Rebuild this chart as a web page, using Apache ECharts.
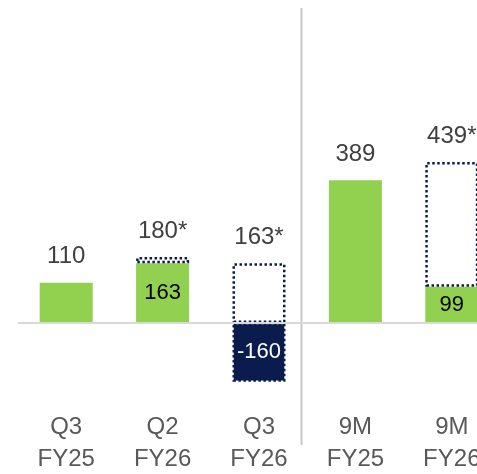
<!DOCTYPE html>
<html>
<head>
<meta charset="utf-8">
<script src="https://cdn.jsdelivr.net/npm/echarts@6/dist/echarts.min.js"></script>
<style>
html,body{margin:0;padding:0;background:#fff;}
#chart{width:477px;height:474px;}
</style>
</head>
<body>
<div id="chart"></div>
<script>
// Data
var categories = ['Q3\nFY25', 'Q2\nFY26', 'Q3\nFY26', '9M\nFY25', '9M\nFY26'];
var reported = [110, 163, null, 389, 99];        // green bars
var negative = [null, null, -160, null, null];   // navy bar
var adjusted = [null, 180, 163, null, 439];      // dotted outline totals (labelled with *)

var GREEN = '#92d050';
var NAVY = '#0a1b4e';
var FONT = '"Liberation Sans", Arial, sans-serif';

// Build series data
var greenData = reported.map(function (v, i) {
  if (v == null) return '-';
  var inside = adjusted[i] != null;
  return {
    value: v,
    label: inside
      ? { show: true, position: 'inside', color: '#000', fontSize: 22 }
      : { show: true, position: 'top', distance: 14, color: '#404040', fontSize: 24 }
  };
});
var outlineData = adjusted.map(function (v, i) {
  if (v == null) return '-';
  var base = reported[i] != null ? reported[i] : 0;
  return { value: v - base, total: v };
});
var negData = negative.map(function (v) { return v == null ? '-' : v; });

var chart = echarts.init(document.getElementById('chart'), null, { renderer: 'canvas' });
chart.setOption({
  animation: false,
  backgroundColor: '#fff',
  grid: { left: 18, width: 482, top: 103, height: 308, containLabel: false, outerBoundsMode: 'none' },
  xAxis: {
    type: 'category',
    data: categories,
    axisLine: { show: false, onZero: false },
    axisTick: { show: false },
    splitLine: { show: false },
    axisLabel: {
      margin: 0,
      color: '#595959',
      fontSize: 24,
      lineHeight: 32,
      fontFamily: FONT,
      interval: 0,
      hideOverlap: false
    }
  },
  yAxis: {
    type: 'value',
    min: -240,
    max: 600,
    show: false,
    splitLine: { show: false }
  },
  series: [
    {
      type: 'bar',
      stack: 'a',
      data: greenData,
      barWidth: 53,
      itemStyle: { color: GREEN },
      label: { fontFamily: FONT },
      markLine: {
        silent: true,
        symbol: 'none',
        label: { show: false },
        lineStyle: { color: '#d9d9d9', width: 2, type: 'solid' },
        data: [{ yAxis: 0 }]
      },
      z: 2
    },
    {
      type: 'bar',
      stack: 'a',
      data: outlineData,
      barWidth: 53,
      itemStyle: {
        color: 'rgba(255,255,255,0)',
        borderColor: NAVY,
        borderWidth: 2.5,
        borderType: 'dotted'
      },
      label: {
        show: true,
        position: 'top',
        distance: 14,
        color: '#404040',
        fontSize: 24,
        fontFamily: FONT,
        formatter: function (p) { return p.data.total + '*'; }
      },
      z: 3
    },
    {
      type: 'bar',
      stack: 'a',
      data: negData,
      barWidth: 53,
      itemStyle: {
        color: NAVY,
        borderColor: NAVY,
        borderWidth: 2.5,
        borderType: 'dotted'
      },
      label: {
        show: true,
        position: 'inside',
        color: '#fff',
        fontSize: 22,
        fontFamily: FONT
      },
      z: 3
    }
  ],
  graphic: [
    {
      type: 'line',
      shape: { x1: 301.5, y1: 8, x2: 301.5, y2: 445 },
      style: { stroke: '#c8c8c8', lineWidth: 2 },
      silent: true
    }
  ]
});
</script>
</body>
</html>
